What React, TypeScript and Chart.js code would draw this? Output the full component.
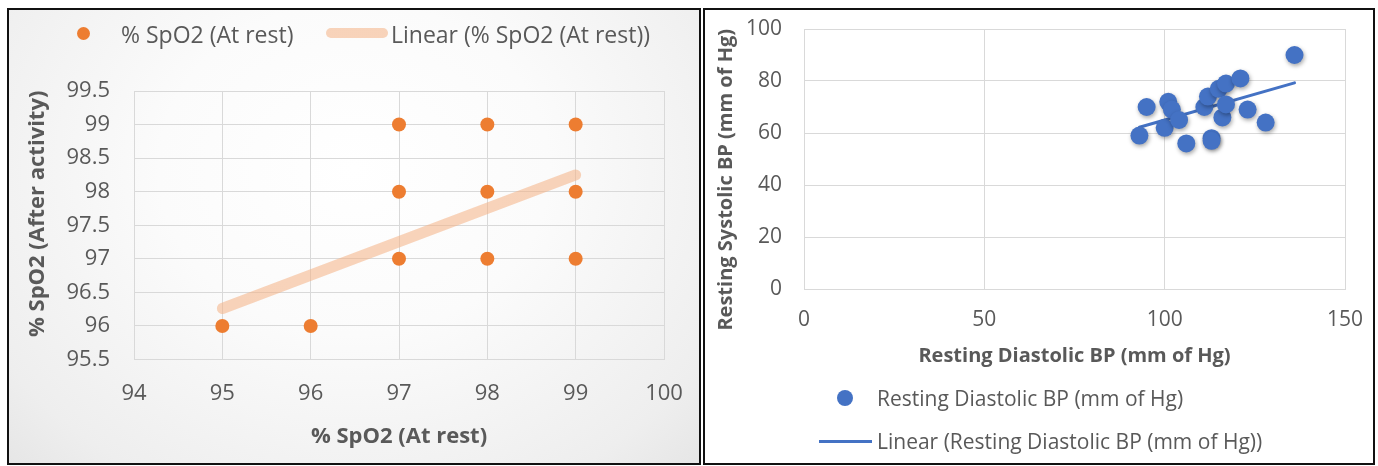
import React, { useEffect, useRef } from "react";
import { Chart, registerables } from "chart.js";

Chart.register(...registerables);

// ---------- Left chart data ----------
const spo2Rest = [95, 96, 97, 97, 97, 98, 98, 98, 99, 99, 99];
const spo2After = [96, 96, 97, 98, 99, 97, 98, 99, 97, 98, 99];
const spo2TrendX = [95, 99];
const spo2TrendY = [96.26, 98.25];
const spo2XTicks = [94, 95, 96, 97, 98, 99, 100];
const spo2YTicks = [95.5, 96, 96.5, 97, 97.5, 98, 98.5, 99, 99.5];

// ---------- Right chart data ----------
const diastolic = [93, 95, 100, 101, 102, 104, 106, 111, 112, 113, 113, 115, 116, 117, 117, 121, 123, 128, 136];
const systolic = [59, 70, 62, 72, 69, 65, 56, 70, 74, 58, 57, 77, 66, 79, 71, 81, 69, 64, 90];
const bpTrendX = [93, 136];
const bpTrendY = [62.2, 79.3];
const bpXTicks = [0, 50, 100, 150];
const bpYTicks = [0, 20, 40, 60, 80, 100];

const FONT = "'Open Sans', sans-serif";
const GRAY = "#595959";
const GRID = "#d9d9d9";

const shadowPlugin = {
  id: "pointShadow",
  beforeDatasetDraw(chart: any, args: any) {
    if (chart.canvas.dataset.shadow === "1" && args.index === 0) {
      const ctx = chart.ctx;
      ctx.save();
      ctx.shadowColor = "rgba(0,0,0,0.35)";
      ctx.shadowBlur = 4;
      ctx.shadowOffsetX = 1;
      ctx.shadowOffsetY = 2;
    }
  },
  afterDatasetDraw(chart: any, args: any) {
    if (chart.canvas.dataset.shadow === "1" && args.index === 0) {
      chart.ctx.restore();
    }
  },
};

function LeftChart() {
  const ref = useRef<HTMLCanvasElement | null>(null);
  useEffect(() => {
    if (!ref.current) return;
    const chart = new Chart(ref.current, {
      type: "scatter",
      data: {
        datasets: [
          {
            label: "% SpO2 (At rest)",
            data: spo2Rest.map((x, i) => ({ x, y: spo2After[i] })),
            backgroundColor: "#ED7D31",
            borderColor: "#ED7D31",
            borderWidth: 0,
            pointRadius: 7,
          },
          {
            label: "Linear (% SpO2 (At rest))",
            data: spo2TrendX.map((x, i) => ({ x, y: spo2TrendY[i] })),
            showLine: true,
            borderColor: "rgba(244,177,131,0.55)",
            borderWidth: 11,
            borderCapStyle: "round",
            pointRadius: 0,
            fill: false,
          } as any,
        ],
      },
      options: {
        animation: false,
        responsive: false,
        maintainAspectRatio: false,
        layout: { padding: { left: 5, top: 81, right: 35, bottom: 12.8 } },
        plugins: { legend: { display: false }, tooltip: { enabled: false } },
        scales: {
          x: {
            type: "linear",
            min: spo2XTicks[0],
            max: spo2XTicks[spo2XTicks.length - 1],
            ticks: { stepSize: 1, padding: 21, color: GRAY, font: { family: FONT, size: 22 } },
            grid: { color: GRID, drawTicks: false },
            border: { color: GRID },
            title: {
              display: true,
              text: "% SpO2 (At rest)",
              color: GRAY,
              font: { family: FONT, size: 22, weight: "bold" },
              padding: 0,
            },
            afterFit: (s: any) => {
              s.height = 90.7;
              s.paddingLeft = 0;
              s.paddingRight = 0;
            },
          },
          y: {
            type: "linear",
            min: spo2YTicks[0],
            max: spo2YTicks[spo2YTicks.length - 1],
            ticks: {
              stepSize: 0.5,
              padding: 24,
              color: GRAY,
              font: { family: FONT, size: 22 },
              callback: (v: any) => String(Number(v)),
            },
            grid: { color: GRID, drawTicks: false },
            border: { color: GRID },
            title: {
              display: true,
              text: "    % SpO2 (After activity)",
              color: GRAY,
              font: { family: FONT, size: 22, weight: "bold" },
              padding: { top: 11, bottom: 0 },
            },
            afterFit: (s: any) => {
              s.width = 120;
              s.paddingTop = 0;
              s.paddingBottom = 0;
            },
          },
        },
      } as any,
    });
    return () => chart.destroy();
  }, []);
  return <canvas ref={ref} width={690} height={453} style={{ position: "absolute", left: 0, top: 0, width: 690, height: 453 }} />;
}

function RightChart() {
  const ref = useRef<HTMLCanvasElement | null>(null);
  useEffect(() => {
    if (!ref.current) return;
    const chart = new Chart(ref.current, {
      type: "scatter",
      plugins: [shadowPlugin],
      data: {
        datasets: [
          {
            label: "Resting Diastolic BP (mm of Hg)",
            data: diastolic.map((x, i) => ({ x, y: systolic[i] })),
            backgroundColor: "#4472C4",
            borderColor: "#4472C4",
            borderWidth: 0,
            pointRadius: 9,
          },
          {
            label: "Linear (Resting Diastolic BP (mm of Hg))",
            data: bpTrendX.map((x, i) => ({ x, y: bpTrendY[i] })),
            showLine: true,
            borderColor: "#4472C4",
            borderWidth: 3,
            borderCapStyle: "round",
            pointRadius: 0,
            fill: false,
          } as any,
        ],
      },
      options: {
        animation: false,
        responsive: false,
        maintainAspectRatio: false,
        layout: { padding: { left: 5, top: 19, right: 28, bottom: 95 } },
        plugins: { legend: { display: false }, tooltip: { enabled: false } },
        scales: {
          x: {
            type: "linear",
            min: bpXTicks[0],
            max: bpXTicks[bpXTicks.length - 1],
            ticks: { stepSize: 50, padding: 18, color: GRAY, font: { family: FONT, size: 21 } },
            grid: { color: GRID, drawTicks: false },
            border: { color: GRID },
            title: {
              display: true,
              text: "Resting Diastolic BP (mm of Hg)",
              color: GRAY,
              font: { family: FONT, size: 20, weight: "bold" },
              padding: 0,
            },
            afterFit: (s: any) => {
              s.height = 79;
              s.paddingLeft = 0;
              s.paddingRight = 0;
            },
          },
          y: {
            type: "linear",
            min: bpYTicks[0],
            max: bpYTicks[bpYTicks.length - 1],
            ticks: { stepSize: 20, padding: 22, color: GRAY, font: { family: FONT, size: 21 } },
            grid: { color: GRID, drawTicks: false },
            border: { color: GRID },
            title: {
              display: true,
              text: "Resting Systolic BP (mm of Hg)        ",
              color: GRAY,
              font: { family: FONT, size: 20, weight: "bold" },
              padding: { top: 4, bottom: 0 },
            },
            afterFit: (s: any) => {
              s.width = 94;
              s.paddingTop = 0;
              s.paddingBottom = 0;
            },
          },
        },
      } as any,
    });
    return () => chart.destroy();
  }, []);
  return (
    <canvas
      ref={ref}
      data-shadow="1"
      width={668}
      height={453}
      style={{ position: "absolute", left: 0, top: 0, width: 668, height: 453 }}
    />
  );
}

const legendText: React.CSSProperties = {
  position: "absolute",
  height: 30,
  lineHeight: "30px",
  whiteSpace: "nowrap",
  color: GRAY,
  fontFamily: FONT,
};

export default function App() {
  return (
    <div style={{ position: "absolute", left: 0, top: 0, width: 1378, height: 466, background: "#fff", overflow: "hidden" }}>
      {/* Left panel */}
      <div
        style={{
          position: "absolute",
          left: 7,
          top: 8,
          width: 694,
          height: 457,
          boxSizing: "border-box",
          border: "2px solid #111",
          background: "radial-gradient(ellipse at 50% 35%, #ffffff 0%, #fbfbfb 40%, #eeeeee 85%, #e6e6e6 100%)",
        }}
      >
        <LeftChart />
        <div style={{ position: "absolute", left: 74 - 6.5, top: 23 - 6.5, width: 13, height: 13, borderRadius: "50%", background: "#ED7D31" }} />
        <div style={{ ...legendText, left: 112, top: 24 - 15, fontSize: 23 }}>% SpO2 (At rest)</div>
        <div style={{ position: "absolute", left: 317, top: 23 - 5, width: 62, height: 10, borderRadius: 5, background: "rgba(244,177,131,0.55)" }} />
        <div style={{ ...legendText, left: 382, top: 24 - 15, fontSize: 23 }}>Linear (% SpO2 (At rest))</div>
      </div>
      {/* Right panel */}
      <div
        style={{
          position: "absolute",
          left: 703,
          top: 8,
          width: 672,
          height: 457,
          boxSizing: "border-box",
          border: "2px solid #111",
          background: "#fff",
        }}
      >
        <RightChart />
        <div style={{ position: "absolute", left: 140 - 8, top: 388 - 8, width: 16, height: 16, borderRadius: "50%", background: "#4472C4" }} />
        <div style={{ ...legendText, left: 172, top: 388 - 15, fontSize: 21 }}>Resting Diastolic BP (mm of Hg)</div>
        <div style={{ position: "absolute", left: 114, top: 431 - 1.5, width: 53, height: 3, background: "#4472C4" }} />
        <div style={{ ...legendText, left: 172, top: 431 - 15, fontSize: 21 }}>Linear (Resting Diastolic BP (mm of Hg))</div>
      </div>
    </div>
  );
}
